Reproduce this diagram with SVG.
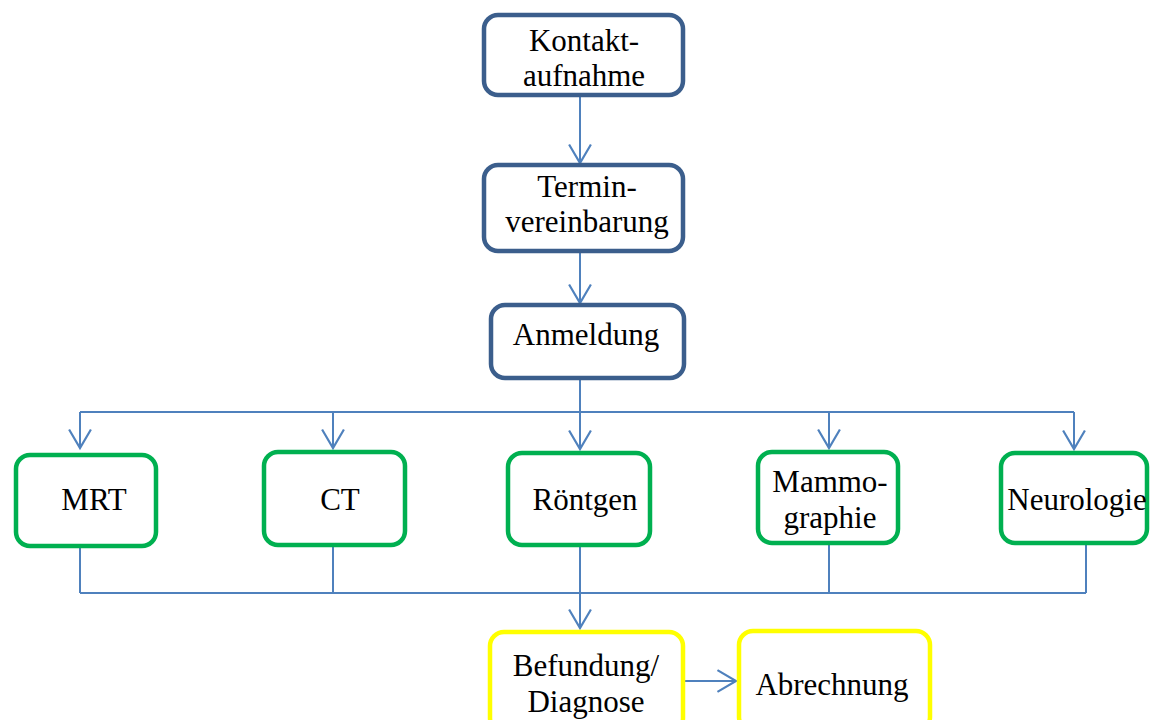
<svg xmlns="http://www.w3.org/2000/svg" width="1150" height="720" viewBox="0 0 1150 720">
  <style>
    .box { fill: #ffffff; stroke-width: 4.5; }
    .step { stroke: #3B5E8C; }
    .exam { stroke: #00B050; }
    .final { stroke: #FFFF00; }
    .lbl { font-family: "Liberation Serif", "Times New Roman", serif; font-size: 31px; fill: #000000; text-anchor: middle; }
    .con { fill: none; stroke: #4F81BD; stroke-width: 2; }
  </style>
  <defs>
    <marker id="vhead" markerUnits="userSpaceOnUse" markerWidth="22" markerHeight="24" viewBox="-1 -1 20 22" refX="17" refY="10" orient="auto" overflow="visible">
      <path d="M0,0 L17,10 L0,20" fill="none" stroke="#4F81BD" stroke-width="2"/>
    </marker>
  </defs>

  <!-- connectors -->
  <g id="connectors">
    <path class="con" d="M580,97 V163" marker-end="url(#vhead)"/>
    <path class="con" d="M580,253 V303" marker-end="url(#vhead)"/>
    <!-- distribution from Anmeldung to the examinations -->
    <path class="con" d="M580,380 V412"/>
    <path class="con" d="M80,412 H1074"/>
    <path class="con" d="M80,412 V448" marker-end="url(#vhead)"/>
    <path class="con" d="M333,412 V448" marker-end="url(#vhead)"/>
    <path class="con" d="M580,412 V449" marker-end="url(#vhead)"/>
    <path class="con" d="M829,412 V448" marker-end="url(#vhead)"/>
    <path class="con" d="M1074,412 V449" marker-end="url(#vhead)"/>
    <!-- collection into Befundung -->
    <path class="con" d="M80,548 V593"/>
    <path class="con" d="M333,547 V593"/>
    <path class="con" d="M580,547 V593"/>
    <path class="con" d="M829,545 V593"/>
    <path class="con" d="M1086,545 V593"/>
    <path class="con" d="M80,593 H1086"/>
    <path class="con" d="M580,593 V628" marker-end="url(#vhead)"/>
    <path class="con" d="M684,681 H736" marker-end="url(#vhead)"/>
  </g>

  <g id="kontaktaufnahme">
    <rect class="box step" x="484" y="15" width="199" height="80" rx="14"/>
    <text class="lbl" x="584" y="51">Kontakt-</text>
    <text class="lbl" x="584" y="86">aufnahme</text>
  </g>

  <g id="terminvereinbarung">
    <rect class="box step" x="484" y="165" width="199" height="86" rx="14"/>
    <text class="lbl" x="587" y="197">Termin-</text>
    <text class="lbl" x="587" y="232">vereinbarung</text>
  </g>

  <g id="anmeldung">
    <rect class="box step" x="491" y="305" width="193" height="73" rx="14"/>
    <text class="lbl" x="586" y="345">Anmeldung</text>
  </g>

  <g id="mrt">
    <rect class="box exam" x="16" y="455" width="140" height="91" rx="14"/>
    <text class="lbl" x="94" y="510">MRT</text>
  </g>

  <g id="ct">
    <rect class="box exam" x="264" y="452" width="141" height="93" rx="14"/>
    <text class="lbl" x="340" y="510">CT</text>
  </g>

  <g id="roentgen">
    <rect class="box exam" x="508" y="453" width="142" height="92" rx="14"/>
    <text class="lbl" x="585" y="510">Röntgen</text>
  </g>

  <g id="mammographie">
    <rect class="box exam" x="758" y="452" width="140" height="91" rx="14"/>
    <text class="lbl" x="830" y="492">Mammo-</text>
    <text class="lbl" x="830" y="528">graphie</text>
  </g>

  <g id="neurologie">
    <rect class="box exam" x="1001" y="453" width="146" height="90" rx="14"/>
    <text class="lbl" x="1077" y="510">Neurologie</text>
  </g>

  <g id="befundung">
    <rect class="box final" x="490" y="632" width="193" height="100" rx="14"/>
    <text class="lbl" x="586" y="676">Befundung/</text>
    <text class="lbl" x="586" y="712">Diagnose</text>
  </g>

  <g id="abrechnung">
    <rect class="box final" x="739" y="631" width="191" height="100" rx="14"/>
    <text class="lbl" x="832" y="695">Abrechnung</text>
  </g>
</svg>
